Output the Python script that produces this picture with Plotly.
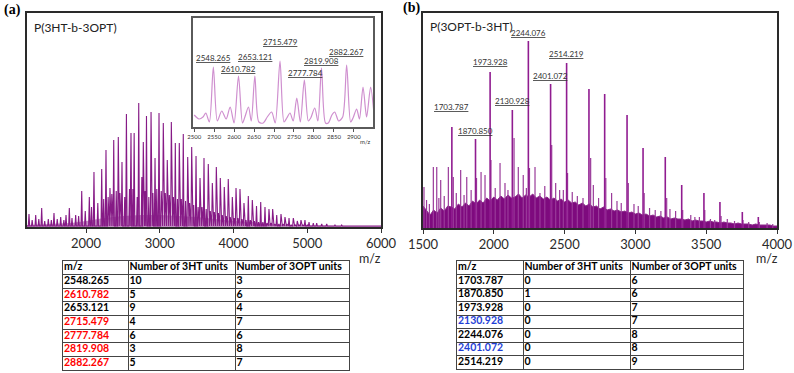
import plotly.graph_objects as go

W, H = 794, 373

# ---------------- (a) P(3HT-b-3OPT) full spectrum ----------------
a_peak_mz = [1227, 1318, 1399, 1489, 1566, 1657, 1729, 1774, 1860, 1942, 2045, 2108, 2213,
             2271, 2325, 2376, 2438, 2488, 2548, 2610, 2653, 2715, 2777, 2820, 2882, 2936,
             2990, 3048, 3102, 3157, 3211, 3265, 3319, 3379, 3433, 3492, 3546, 3600, 3658,
             3713, 3767, 3821, 3875, 3929, 3984, 4034, 4088, 4142, 4201, 4255, 4312, 4369,
             4427, 4481, 4531, 4586, 4644, 4698, 4753, 4811, 4865, 4915, 4969, 5024, 5082,
             5128, 5196, 5264, 5376, 5467]
a_peak_int = [13, 12, 19, 8, 14, 10, 12, 19, 12, 36, 30, 55, 58,
              77, 39, 87, 90, 65, 113, 94, 94, 124, 85, 111, 115, 69,
              114, 104, 67, 105, 84, 84, 93, 70, 80, 71, 49, 69, 63,
              44, 60, 49, 40, 48, 30, 39, 38, 24, 31, 27, 21, 25,
              20, 18, 18, 12, 13, 10, 9, 9, 6, 7, 7, 5, 4,
              4, 3, 3, 2, 2]
a_minor_mz = [1270, 1360, 1440, 1530, 1610, 1700, 1810, 1900, 1990, 2075, 2160, 2240, 2300,
              2350, 2410, 2460, 2525, 2590, 2636, 2694, 2757, 2802, 2852, 2907, 2960, 3020,
              3075, 3130, 3185, 3240, 3292, 3350, 3405, 3460, 3520, 3573, 3630, 3685, 3740,
              3795, 3848, 3902, 3956, 4010, 4061, 4115, 4170, 4228, 4283, 4340, 4398, 4454,
              4506, 4558, 4615, 4671, 4725, 4782, 4838, 4890, 4942, 5000]
a_minor_int = [7, 8, 6, 7, 8, 7, 9, 11, 16, 20, 24, 28, 30,
               33, 36, 34, 30, 38, 38, 30, 50, 36, 30, 34, 38, 36,
               34, 32, 30, 28, 28, 26, 24, 22, 20, 20, 18, 16, 15,
               14, 12, 11, 10, 9, 9, 8, 7, 7, 6, 5, 5, 4,
               4, 3, 3, 3, 3, 2, 2, 2, 2, 2]
# dense low-level floor under the peak series
a_floor_mz = [1200, 1500, 1800, 2000, 2250, 2500, 2750, 3000, 3250, 3500, 3750, 4000,
              4250, 4500, 4750, 5000, 5500, 6000]
a_floor_int = [2, 3, 4, 6, 9, 11, 12, 12, 11, 10, 8, 6, 5, 3, 2, 1.5, 1, 1]

# inset 2500-2950 m/z (peaks and valleys)
inset_mz = [2500, 2512, 2522, 2529, 2538, 2548, 2558, 2569, 2580, 2590, 2600, 2611, 2621,
            2627, 2636, 2643, 2652, 2662, 2673, 2683, 2694, 2703, 2715, 2725, 2732, 2740,
            2748, 2757, 2766, 2776, 2786, 2792, 2802, 2810, 2819, 2829, 2836, 2845, 2852,
            2862, 2872, 2882, 2892, 2898, 2907, 2914, 2923, 2932, 2942, 2950]
inset_int = [12, 8, 10, 14, 5, 60, 6, 16, 8, 20, 4, 51, 4,
             10, 20, 6, 51, 5, 4, 10, 15, 4, 66, 5, 9, 14,
             6, 29, 5, 47, 6, 9, 19, 6, 59, 4, 4, 12, 15,
             6, 10, 62, 5, 9, 18, 8, 40, 10, 40, 15]
inset_labels = ["2548.265", "2610.782", "2653.121", "2715.479", "2777.784", "2819.908", "2882.267"]

# ---------------- (b) P(3OPT-b-3HT) full spectrum ----------------
b_peak_mz = [1703.787, 1870.850, 1973.928, 2130.928, 2244.076, 2401.072, 2514.219,
             2672, 2783, 2941, 3054, 3211, 3327, 3484, 3597, 3755, 3868]
b_peak_int = [101, 89, 156, 118, 187, 144, 165, 139, 134, 113, 80, 71, 43, 35, 26, 16, 11]
b_minor_mz = [1507, 1525, 1545, 1573, 1597, 1612, 1625, 1650, 1679, 1714, 1735, 1766, 1790,
              1809, 1840, 1878, 1910, 1938, 1980, 2010, 2044, 2079, 2100, 2143, 2173, 2208,
              2230, 2252, 2291, 2326, 2360, 2409, 2437, 2465, 2491, 2521, 2554, 2590, 2630,
              2684, 2703, 2740, 2791, 2832, 2870, 2900, 2950, 2990, 3020, 3062, 3100, 3140,
              3180, 3221, 3244, 3284, 3334, 3391, 3420, 3452, 3490, 3530, 3560, 3605, 3649,
              3700, 3760, 3800, 3875, 3930, 3970]
b_minor_int = [41, 28, 24, 61, 61, 30, 48, 32, 61, 51, 35, 58, 33,
               51, 38, 50, 56, 53, 68, 40, 65, 45, 38, 90, 61, 53,
               40, 60, 61, 35, 42, 83, 45, 38, 38, 55, 36, 32, 30,
               70, 43, 30, 50, 35, 27, 25, 45, 24, 22, 35, 20, 18,
               17, 30, 19, 17, 18, 13, 11, 11, 18, 9, 8, 12, 9,
               7, 8, 6, 6, 5, 4]
# ragged top of the dense baseline forest, every 25 m/z
b_base_mz = [1500, 1525, 1550, 1575, 1600, 1625, 1650, 1675, 1700, 1725, 1750, 1775, 1800,
             1825, 1850, 1875, 1900, 1925, 1950, 1975, 2000, 2025, 2050, 2075, 2100, 2125,
             2150, 2175, 2200, 2225, 2250, 2275, 2300, 2325, 2350, 2375, 2400, 2425, 2450,
             2475, 2500, 2525, 2550, 2575, 2600, 2625, 2650, 2675, 2700, 2725, 2750, 2775,
             2800, 2825, 2850, 2875, 2900, 2925, 2950, 2975, 3000, 3025, 3050, 3075, 3100,
             3125, 3150, 3175, 3200, 3225, 3250, 3275, 3300, 3325, 3350, 3375, 3400, 3425,
             3450, 3475, 3500, 3525, 3550, 3575, 3600, 3625, 3650, 3675, 3700, 3725, 3750,
             3775, 3800, 3825, 3850, 3875, 3900, 3925, 3950, 3975, 4000]
b_base_int = [22, 17, 13, 18, 15, 20, 17, 22, 21, 19, 24, 21, 25,
              22, 27, 24, 28, 25, 30, 27, 31, 28, 32, 29, 33, 30,
              31, 34, 30, 33, 31, 34, 30, 32, 29, 31, 28, 30, 27,
              29, 26, 28, 25, 26, 23, 25, 22, 24, 21, 22, 19, 21,
              18, 19, 17, 18, 16, 17, 15, 16, 14, 15, 13, 14, 12,
              13, 11, 12, 10, 11, 9, 10, 9, 9, 8, 9, 7, 8,
              7, 7, 6, 7, 6, 6, 5, 6, 5, 5, 4, 5, 4,
              4, 4, 3, 4, 3, 3, 3, 3, 2, 2]
b_labels = ["1703.787", "1870.850", "1973.928", "2130.928", "2244.076", "2401.072", "2514.219"]

# ---------------- tables ----------------
tab_header = ["m/z", "Number of 3HT units", "Number of 3OPT units"]
tab_a_mz = ["2548.265", "2610.782", "2653.121", "2715.479", "2777.784", "2819.908", "2882.267"]
tab_a_3ht = [10, 5, 9, 4, 6, 3, 5]
tab_a_3opt = [3, 6, 4, 7, 6, 8, 7]
tab_a_mz_color = ["black", "red", "black", "red", "red", "red", "red"]
tab_b_mz = ["1703.787", "1870.850", "1973.928", "2130.928", "2244.076", "2401.072", "2514.219"]
tab_b_3ht = [0, 1, 0, 0, 0, 0, 0]
tab_b_3opt = [6, 6, 7, 7, 8, 8, 9]
tab_b_mz_color = ["black", "black", "black", "#1f3fd6", "black", "#1f3fd6", "black"]

# label placement (intensity units of each subplot) - layout only
inset_label_y = [68.7, 57.7, 69.7, 84.7, 53.7, 66, 75.3]
b_label_y = [120.7, 97.3, 166.3, 127.3, 195.3, 152, 174]

PURPLE = "#861a86"
FONT = "Lato"


def dx(a, b):
    return [a / W, b / W]


def dy(top, bottom):
    return [1 - bottom / H, 1 - top / H]


def profile(mz, inten, lo, hi, half=9, base=1):
    # spectrum trace: narrow triangular peaks joined by the baseline
    xs, ys = [lo], [base]
    for m, h in sorted(zip(mz, inten)):
        xs += [m - half, m, m + half]
        ys += [base, h, base]
    xs.append(hi)
    ys.append(base)
    return xs, ys


def sticks(mz, inten):
    xs, ys = [], []
    for m, h in zip(mz, inten):
        xs += [m, m, None]
        ys += [0, h, None]
    return xs, ys


fig = go.Figure()

# (a) main spectrum
fig.add_trace(go.Scatter(x=a_floor_mz, y=a_floor_int, mode="lines", fill="tozeroy",
                         fillcolor="rgba(140,40,140,0.5)", line=dict(width=0),
                         xaxis="x", yaxis="y", hoverinfo="skip"))
xa, ya = profile(a_peak_mz + a_minor_mz, a_peak_int + a_minor_int, 1200, 6000)
fig.add_trace(go.Scatter(x=xa, y=ya, mode="lines", line=dict(color=PURPLE, width=1.1),
                         xaxis="x", yaxis="y", hoverinfo="skip"))

# (a) inset
fig.add_trace(go.Scatter(x=inset_mz, y=inset_int, mode="lines",
                         line=dict(color="#cf8fcf", width=1.2, shape="spline", smoothing=0.8),
                         xaxis="x2", yaxis="y2", hoverinfo="skip"))

# (b) spectrum: dense base + spikes
fig.add_trace(go.Scatter(x=b_base_mz, y=b_base_int, mode="lines", fill="tozeroy",
                         fillcolor="#7e0a7e", line=dict(color="#8a2a8a", width=1),
                         xaxis="x3", yaxis="y3", hoverinfo="skip"))
xs, ys = sticks(b_minor_mz, b_minor_int)
fig.add_trace(go.Scatter(x=xs, y=ys, mode="lines", line=dict(color="#9a3a9a", width=1.2),
                         xaxis="x3", yaxis="y3", hoverinfo="skip"))
xs, ys = sticks(b_peak_mz, b_peak_int)
fig.add_trace(go.Scatter(x=xs, y=ys, mode="lines", line=dict(color="#901c90", width=1.6),
                         xaxis="x3", yaxis="y3", hoverinfo="skip"))


# tables as text on a grid
def add_table(mzs, ht, opt, mz_colors, xname, yname, widths):
    edges = [0]
    for w in widths:
        edges.append(edges[-1] + w)
    rows = [tab_header] + [[m, str(h), str(o)] for m, h, o in zip(mzs, ht, opt)]
    colors = ["black"] + mz_colors
    tx, ty, tt, tc = [], [], [], []
    for r, row in enumerate(rows):
        for c, val in enumerate(row):
            tx.append(edges[c] + 1)
            ty.append(r + 0.5)
            tt.append("<b>" + val + "</b>")
            tc.append(colors[r] if c == 0 else "black")
    fig.add_trace(go.Scatter(x=tx, y=ty, text=tt, mode="text", textposition="middle right",
                             textfont=dict(family=FONT, size=10.5, color=tc), cliponaxis=False,
                             xaxis=xname, yaxis=yname, hoverinfo="skip"))
    return edges, len(rows)


edges_a, nrows = add_table(tab_a_mz, tab_a_3ht, tab_a_3opt, tab_a_mz_color, "x4", "y4",
                           [65.7, 107.3, 113.7])
edges_b, _ = add_table(tab_b_mz, tab_b_3ht, tab_b_3opt, tab_b_mz_color, "x5", "y5",
                       [66.7, 107.3, 112.7])

tickfont = dict(family=FONT, size=13, color="#2a2a2a")
frame = dict(showline=True, mirror=True, linecolor="#2a2a2a", linewidth=1.6,
             zeroline=False, showgrid=False, automargin=False)
inset_frame = dict(showline=True, mirror=True, linecolor="#5a5a5a", linewidth=1.5,
                   zeroline=False, showgrid=False, automargin=False)
table_x = dict(showline=True, mirror=True, linecolor="#444", linewidth=1, zeroline=False,
               showgrid=True, gridcolor="#444", gridwidth=1, showticklabels=False, ticks="",
               automargin=False)
table_y = dict(showline=True, mirror=True, linecolor="#444", linewidth=1, zeroline=False,
               showgrid=True, gridcolor="#444", gridwidth=1, showticklabels=False, ticks="",
               range=[nrows, 0], tickvals=list(range(nrows + 1)), automargin=False)

fig.update_layout(
    width=W, height=H, autosize=False, margin=dict(l=0, r=0, t=0, b=0, pad=0, autoexpand=False),
    paper_bgcolor="white", plot_bgcolor="white", showlegend=False,
    xaxis=dict(domain=dx(27, 381), range=[1200, 6000], tickvals=[2000, 3000, 4000, 5000, 6000],
               ticks="outside", ticklen=4, tickcolor="#333", tickfont=tickfont, anchor="y", **frame),
    yaxis=dict(domain=dy(13, 227), range=[0, 214], showticklabels=False, ticks="",
               anchor="x", **frame),
    xaxis2=dict(domain=dx(193, 373), range=[2497, 2948], dtick=50, tick0=2500,
                ticks="outside", ticklen=3, tickcolor="#555",
                tickfont=dict(family=FONT, size=6, color="#333"), anchor="y2", **inset_frame),
    yaxis2=dict(domain=dy(18, 127), range=[0, 109], showticklabels=False, ticks="",
                anchor="x2", **inset_frame),
    xaxis3=dict(domain=dx(423, 777), range=[1500, 4000], dtick=500, tick0=1500,
                ticks="outside", ticklen=4, tickcolor="#333", tickfont=tickfont, anchor="y3", **frame),
    yaxis3=dict(domain=dy(13, 228), range=[0, 215], showticklabels=False, ticks="",
                anchor="x3", **frame),
    xaxis4=dict(domain=dx(63, 349), range=[0, edges_a[-1]], tickvals=edges_a, anchor="y4", **table_x),
    yaxis4=dict(domain=dy(261, 370), anchor="x4", **table_y),
    xaxis5=dict(domain=dx(457, 743), range=[0, edges_b[-1]], tickvals=edges_b, anchor="y5", **table_x),
    yaxis5=dict(domain=dy(261, 369), anchor="x5", **table_y),
)

ann = []
for lab, ly in zip(inset_labels, inset_label_y):
    ann.append(dict(x=float(lab), y=ly, xref="x2", yref="y2", text="<u>" + lab + "</u>",
                    showarrow=False, yanchor="middle", font=dict(family=FONT, size=8, color="#333")))
for lab, ly in zip(b_labels, b_label_y):
    ann.append(dict(x=float(lab), y=ly, xref="x3", yref="y3", text="<u>" + lab + "</u>",
                    showarrow=False, yanchor="middle", font=dict(family=FONT, size=8, color="#333")))


def paper_text(px, py, text, size, family=FONT, color="#222", xanchor="center"):
    return dict(x=px / W, y=1 - py / H, xref="paper", yref="paper", text=text, showarrow=False,
                xanchor=xanchor, yanchor="middle", font=dict(family=family, size=size, color=color))


ann += [
    paper_text(2, 10, "<b>(a)</b>", 14, "Liberation Serif", "black", "left"),
    paper_text(401, 8, "<b>(b)</b>", 14, "Liberation Serif", "black", "left"),
    paper_text(32, 27, "P(3HT-b-3OPT)", 12, xanchor="left"),
    paper_text(428, 26, "P(3OPT-b-3HT)", 12, xanchor="left"),
    paper_text(370, 258, "m/z", 12.5, color="#2a2a2a"),
    paper_text(767, 258, "m/z", 12.5, color="#2a2a2a"),
    paper_text(365, 141, "m/z", 6, color="#333"),
]
fig.update_layout(annotations=ann)

fig.write_html("out.html", config={"responsive": False, "displayModeBar": False},
               post_script="document.body.style.margin='0px';document.body.style.overflow='hidden';")
